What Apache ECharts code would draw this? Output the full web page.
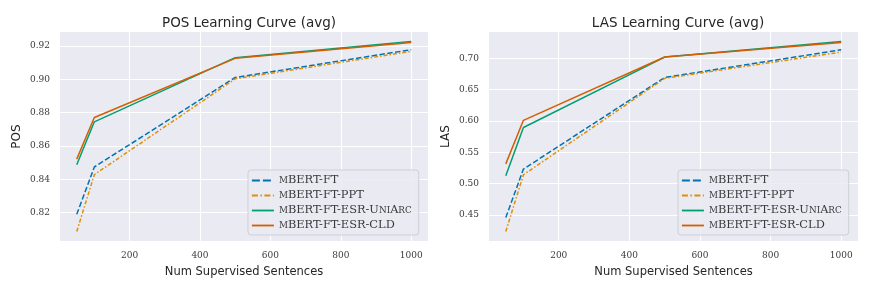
<!DOCTYPE html>
<html><head><meta charset="utf-8">
<script src="https://cdn.jsdelivr.net/npm/echarts@6/dist/echarts.min.js"></script>
<style>html,body{margin:0;padding:0;background:#fff}#c{width:872px;height:291px}</style>
</head><body><div id="c"></div>
<script>
const xs = [50, 100, 500, 1000];
const seriesNames = ['mBERT-FT', 'mBERT-FT-PPT', 'mBERT-FT-ESR-UniArc', 'mBERT-FT-ESR-CLD'];
const posFT  = [0.8190, 0.8474, 0.9011, 0.9178];
const posPPT = [0.8087, 0.8428, 0.9003, 0.9168];
const posUni = [0.8488, 0.8745, 0.9130, 0.9227];
const posCLD = [0.8521, 0.8771, 0.9126, 0.9221];
const lasFT  = [0.4460, 0.5233, 0.6694, 0.7136];
const lasPPT = [0.4238, 0.5143, 0.6680, 0.7100];
const lasUni = [0.5127, 0.5896, 0.7020, 0.7268];
const lasCLD = [0.5316, 0.6011, 0.7020, 0.7252];
const xTicks = [200, 400, 600, 800, 1000];
const posTicks = [0.82, 0.84, 0.86, 0.88, 0.90, 0.92];
const lasTicks = [0.45, 0.50, 0.55, 0.60, 0.65, 0.70];
const titles = ['POS Learning Curve (avg)', 'LAS Learning Curve (avg)'];
const yNames = ['POS', 'LAS'];
const xName = 'Num Supervised Sentences';

const colors = ['#0173B2', '#DE8F05', '#029E73', '#D55E00'];
const dashes = [[5.5, 2.4], [4, 2, 1.5, 2], 'solid', 'solid'];
const legendDashes = [[8, 3], [6, 2.5, 1.5, 2.5], 'solid', 'solid'];
const richNames = {
  'mBERT-FT': '{s|M}{n|BERT-FT}',
  'mBERT-FT-PPT': '{s|M}{n|BERT-FT-PPT}',
  'mBERT-FT-ESR-UniArc': '{s|M}{n|BERT-FT-ESR-U}{s|NI}{n|A}{s|RC}',
  'mBERT-FT-ESR-CLD': '{s|M}{n|BERT-FT-ESR-CLD}'
};
const sans = 'DejaVu Sans';
const serif = 'DejaVu Serif';

function pad(arr) {
  const mn = Math.min(...arr), mx = Math.max(...arr), r = mx - mn;
  return [mn - 0.05 * r, mx + 0.05 * r];
}
const xr = pad(xs);
const posR = pad(posFT.concat(posPPT, posUni, posCLD));
const lasR = pad(lasFT.concat(lasPPT, lasUni, lasCLD));

const grids = [
  {left: 60, width: 368, top: 32, height: 209, backgroundColor: '#EAEAF2', show: true, borderWidth: 0},
  {left: 489, width: 369, top: 32, height: 209, backgroundColor: '#EAEAF2', show: true, borderWidth: 0}
];

function xAxis(i) {
  return {
    type: 'value', gridIndex: i, min: xr[0], max: xr[1],
    name: xName, nameLocation: 'middle', nameGap: 25,
    nameTextStyle: {fontFamily: sans, fontSize: 11.5, color: '#262626'},
    axisLine: {show: false}, axisTick: {show: false, customValues: xTicks},
    axisLabel: {customValues: xTicks, fontFamily: serif, fontSize: 9, color: '#3a3a3a', margin: 10,
      formatter: v => String(v)},
    splitLine: {show: true, lineStyle: {color: '#fff', width: 1.1}, customValues: xTicks}
  };
}
function yAxis(i, r, ticks) {
  return {
    type: 'value', gridIndex: i, min: r[0], max: r[1],
    name: yNames[i], nameLocation: 'middle', nameGap: 37, nameRotate: 90,
    nameTextStyle: {fontFamily: sans, fontSize: 12, color: '#262626'},
    axisLine: {show: false}, axisTick: {show: false, customValues: ticks},
    axisLabel: {customValues: ticks, fontFamily: serif, fontSize: 9, color: '#3a3a3a', margin: 10,
      formatter: v => v.toFixed(2)},
    splitLine: {show: true, lineStyle: {color: '#fff', width: 1.1}, customValues: ticks}
  };
}
function mkSeries(i, datas) {
  return datas.map((d, k) => ({
    name: seriesNames[k], type: 'line', xAxisIndex: i, yAxisIndex: i,
    data: xs.map((x, j) => [x, d[j]]), symbol: 'none', symbolSize: 0, showSymbol: false,
    lineStyle: {color: colors[k], width: 1.5, type: dashes[k]},
    itemStyle: {color: colors[k]}, z: 2 + k, animation: false
  }));
}
function legend(left) {
  return {
    orient: 'vertical', left: left, top: 170, itemWidth: 22, itemHeight: 12, itemGap: 4,
    padding: [5, 7, 4, 3], backgroundColor: 'rgba(234,234,242,0.85)',
    borderColor: '#cfcfd6', borderWidth: 1, borderRadius: 3,
    data: seriesNames.map((n, k) => ({name: n, lineStyle: {type: legendDashes[k], color: colors[k], width: 1.8}})),
    selectedMode: false,
    itemStyle: {opacity: 0},
    formatter: n => richNames[n],
    textStyle: {
      rich: {
        n: {fontFamily: serif, fontSize: 11.4, color: '#3a3a3a', verticalAlign: 'bottom'},
        s: {fontFamily: serif, fontSize: 8.8, color: '#3a3a3a', verticalAlign: 'bottom', padding: [0, 0, 0.6, 0]}
      }
    }
  };
}

const option = {
  animation: false,
  title: [
    {text: titles[0], left: 244, top: 11, textAlign: 'center', textStyle: {fontFamily: sans, fontSize: 13.5, fontWeight: 'normal', color: '#262626'}},
    {text: titles[1], left: 673, top: 11, textAlign: 'center', textStyle: {fontFamily: sans, fontSize: 13.5, fontWeight: 'normal', color: '#262626'}}
  ],
  grid: grids,
  xAxis: [xAxis(0), xAxis(1)],
  yAxis: [yAxis(0, posR, posTicks), yAxis(1, lasR, lasTicks)],
  legend: [legend(248), legend(678)],
  series: mkSeries(0, [posFT, posPPT, posUni, posCLD]).concat(mkSeries(1, [lasFT, lasPPT, lasUni, lasCLD]))
};
const chart = echarts.init(document.getElementById('c'), null, {renderer: 'canvas'});
chart.setOption(option);
</script></body></html>
